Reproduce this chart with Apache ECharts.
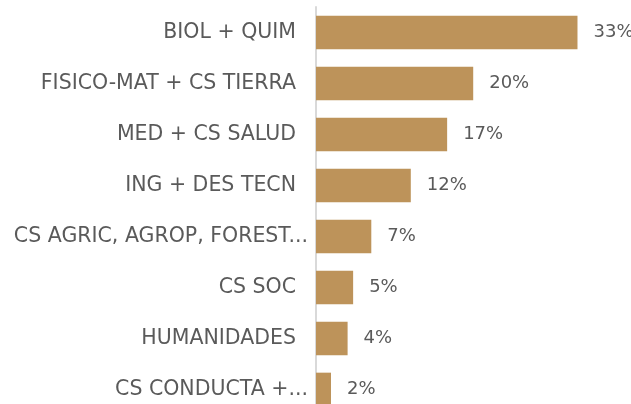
<!DOCTYPE html>
<html>
<head>
<meta charset="utf-8">
<script src="https://cdn.jsdelivr.net/npm/echarts@6/dist/echarts.min.js"></script>
<style>
  html, body { margin: 0; padding: 0; background: #fff; }
  #main { width: 631px; height: 404px; }
</style>
</head>
<body>
<div id="main"></div>
<script>
// areas, top to bottom
var categories = ['BIOL + QUIM', 'FISICO-MAT + CS TIERRA', 'MED + CS SALUD', 'ING + DES TECN',
    'CS AGRIC, AGROP, FOREST...', 'CS SOC', 'HUMANIDADES', 'CS CONDUCTA +...'];
var shares = [33.1, 19.9, 16.6, 12.0, 7.0, 4.7, 4.0, 1.9];

// truncated names hang a little past the others
var yData = categories.map(function (c) {
    if (c.slice(-3) === '...') {
        return { value: c, textStyle: { padding: [0, -12, 0, 0] } };
    }
    return c;
});

var myChart = echarts.init(document.getElementById('main'));
var option = {
    animation: false,
    textStyle: { fontFamily: 'DejaVu Sans' },
    grid: { left: 316, top: 7, width: 316, height: 408, containLabel: false, outerBoundsMode: 'none' },
    xAxis: {
        type: 'value',
        min: 0,
        max: 40,
        show: false
    },
    yAxis: {
        type: 'category',
        inverse: true,
        data: yData,
        axisLine: { show: true, lineStyle: { color: '#d9d9d9', width: 2 } },
        axisTick: { show: false },
        axisLabel: { color: '#5a5a5a', fontSize: 20.5, margin: 20 }
    },
    series: [{
        type: 'bar',
        data: shares,
        barCategoryGap: '34%',
        itemStyle: { color: '#bd935a' },
        label: {
            show: true,
            position: 'right',
            distance: 16,
            color: '#5a5a5a',
            fontSize: 18,
            formatter: function (p) { return Math.round(p.value) + '%'; }
        }
    }]
};
myChart.setOption(option);
</script>
</body>
</html>
